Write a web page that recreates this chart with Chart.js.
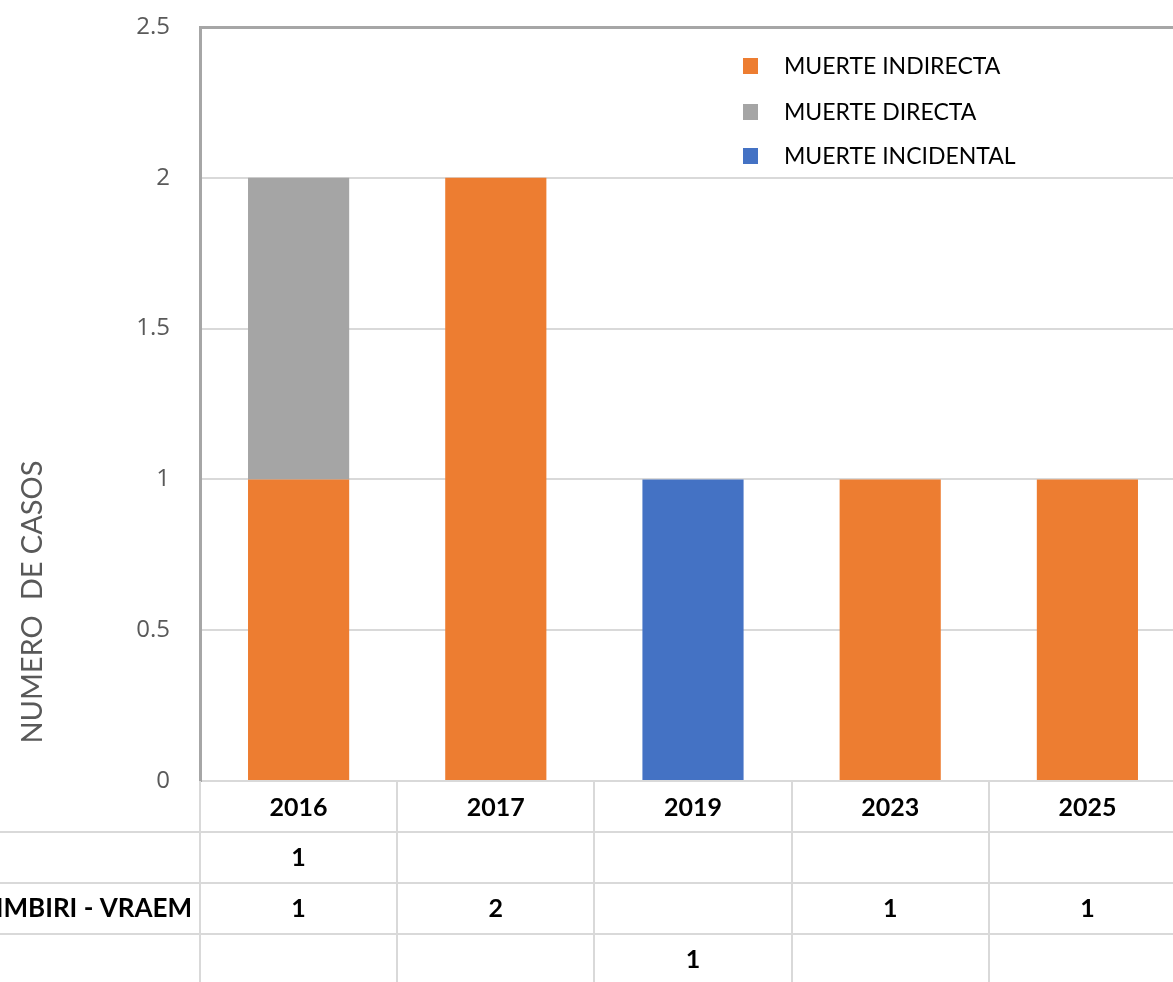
<!DOCTYPE html>
<html>
<head>
<meta charset="utf-8">
<script src="https://cdn.jsdelivr.net/npm/chart.js@4.4.0/dist/chart.umd.min.js"></script>
<style>
  html, body { margin: 0; padding: 0; background: #fff; overflow: hidden; }
  #wrap { width: 1190px; height: 982px; position: relative; }
</style>
</head>
<body>
<div id="wrap"><canvas id="chart"></canvas></div>
<script>
// Casos por año y tipo de muerte
var years = ['2016', '2017', '2019', '2023', '2025'];
var muerteIndirecta = [1, 2, null, 1, 1];
var muerteDirecta = [1, null, null, null, null];
var muerteIncidental = [null, null, 1, null, null];
var yTicks = [0, 0.5, 1, 1.5, 2, 2.5];
var tableRows = [
    { label: '', values: muerteDirecta },
    { label: 'KIMBIRI - VRAEM', values: muerteIndirecta },
    { label: '', values: muerteIncidental }
];

var GRID = '#d9d9d9';
var FRAME = '#a6a6a6';
var TEXT_GRAY = '#595959';

// ── Legend + axis title + data table, drawn on top ─────────────
var extrasPlugin = {
    id: 'extras',
    afterDraw: function (chart) {
        var ctx = chart.ctx;
        var x = chart.scales.x;
        var area = chart.chartArea;
        ctx.save();

        // legend (inside plot, top right)
        var legendY = [66, 112, 156];
        chart.data.datasets.forEach(function (ds, i) {
            ctx.fillStyle = ds.backgroundColor;
            ctx.fillRect(743, legendY[i] - 8, 15, 16);
            ctx.fillStyle = '#000';
            ctx.font = '23px Lato';
            ctx.textAlign = 'left';
            ctx.textBaseline = 'middle';
            ctx.fillText(ds.label, 784, legendY[i] + 1);
        });

        // y axis title
        ctx.save();
        ctx.translate(33, 602);
        ctx.rotate(-Math.PI / 2);
        ctx.fillStyle = TEXT_GRAY;
        ctx.font = '29px Lato';
        ctx.textAlign = 'center';
        ctx.textBaseline = 'middle';
        ctx.fillText('NUMERO  DE CASOS', 0, 0);
        ctx.restore();

        // data table under the axis
        var half = (x.getPixelForValue(1) - x.getPixelForValue(0)) / 2;
        var top = area.bottom;
        var rowH = 51;
        var headerBottom = 832;
        ctx.strokeStyle = GRID;
        ctx.lineWidth = 2;
        for (var i = 0; i <= years.length; i++) {
            var bx = Math.round(x.getPixelForValue(i) - half);
            ctx.beginPath();
            ctx.moveTo(bx, top);
            ctx.lineTo(bx, chart.height);
            ctx.stroke();
        }
        for (var r = 0; r < tableRows.length; r++) {
            var ly = headerBottom + r * rowH;
            ctx.beginPath();
            ctx.moveTo(0, ly);
            ctx.lineTo(chart.width, ly);
            ctx.stroke();
        }
        ctx.fillStyle = '#000';
        ctx.textBaseline = 'middle';
        tableRows.forEach(function (row, r) {
            var cy = headerBottom + r * rowH + rowH / 2;
            ctx.font = 'bold 26px Lato';
            ctx.textAlign = 'right';
            ctx.fillText(row.label, 192, cy);
            ctx.font = 'bold 25px Lato';
            ctx.textAlign = 'center';
            row.values.forEach(function (v, c) {
                if (v !== null) ctx.fillText(String(v), x.getPixelForValue(c), cy);
            });
        });
        ctx.restore();
    }
};

new Chart(document.getElementById('chart').getContext('2d'), {
    type: 'bar',
    data: {
        labels: years,
        datasets: [
            { label: 'MUERTE INDIRECTA', data: muerteIndirecta, backgroundColor: '#ED7D31' },
            { label: 'MUERTE DIRECTA', data: muerteDirecta, backgroundColor: '#A5A5A5' },
            { label: 'MUERTE INCIDENTAL', data: muerteIncidental, backgroundColor: '#4472C4' }
        ]
    },
    options: {
        responsive: true,
        maintainAspectRatio: false,
        animation: false,
        categoryPercentage: 0.513,
        barPercentage: 1,
        layout: { padding: { top: 27, right: 4, left: 0, bottom: 0 } },
        scales: {
            x: {
                stacked: true,
                grid: { display: false, drawTicks: false },
                border: { color: GRID, width: 2 },
                ticks: { color: '#000', font: { family: 'Lato', size: 25, weight: 'bold' }, padding: 12 },
                afterFit: function (s) {
                    s.height = 201;
                    s.paddingLeft = 0;
                    s.paddingRight = 0;
                }
            },
            y: {
                stacked: true,
                min: 0,
                max: 2.5,
                afterBuildTicks: function (s) {
                    s.ticks = yTicks.map(function (v) { return { value: v }; });
                },
                grid: {
                    drawTicks: false,
                    color: function (c) { return c.tick && c.tick.value === 2.5 ? FRAME : GRID; },
                    lineWidth: function (c) { return c.tick && c.tick.value === 2.5 ? 3 : 2; }
                },
                border: { color: FRAME, width: 3 },
                ticks: {
                    color: TEXT_GRAY,
                    font: { family: 'Open Sans', size: 24 },
                    padding: 30,
                    callback: function (v) { return String(v); }
                },
                afterFit: function (s) {
                    s.width = 200;
                    s.paddingTop = 0;
                    s.paddingBottom = 0;
                }
            }
        },
        plugins: {
            legend: { display: false },
            tooltip: { enabled: false }
        }
    },
    plugins: [extrasPlugin]
});
</script>
</body>
</html>
